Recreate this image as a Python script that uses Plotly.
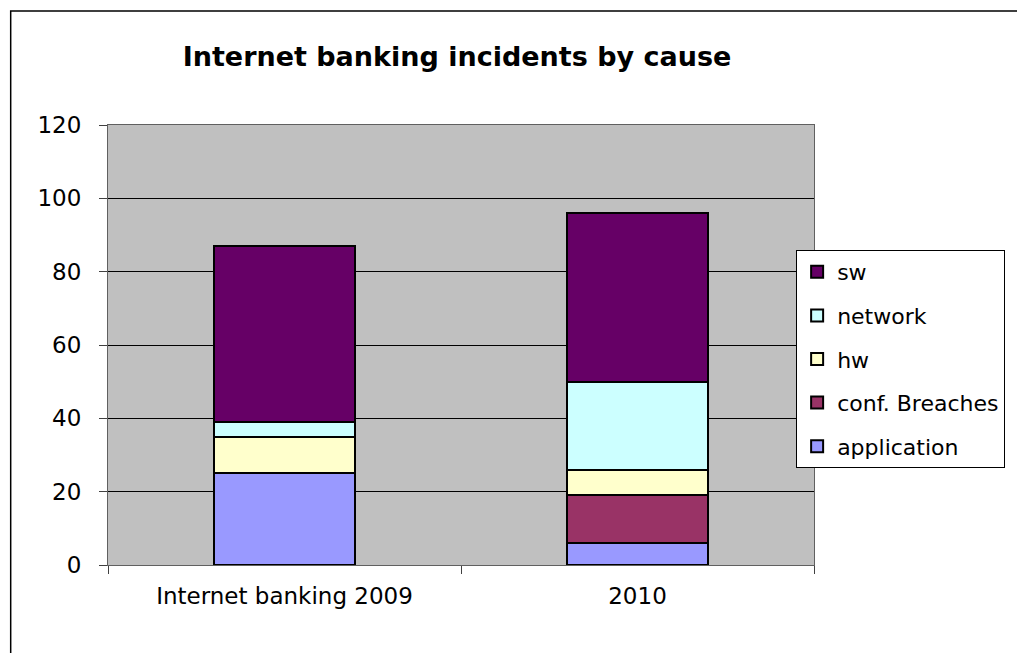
import plotly.graph_objects as go

categories = ["Internet banking 2009", "2010"]
series_names = ["application", "conf. Breaches", "hw", "network", "sw"]
application = [25, 6]
conf_breaches = [0, 13]
hw = [10, 7]
network = [4, 24]
sw = [48, 46]
series_values = [application, conf_breaches, hw, network, sw]
series_colors = ["#9999FF", "#993366", "#FFFFCC", "#CCFFFF", "#660066"]
legend_ranks = [5, 4, 3, 2, 1]
y_ticks = [0, 20, 40, 60, 80, 100, 120]

FONT = "DejaVu Sans"

fig = go.Figure()
for name, vals, col, rk in zip(series_names, series_values, series_colors, legend_ranks):
    fig.add_trace(go.Bar(
        x=categories, y=vals, name=name, legendgroup=name, legendrank=rk,
        marker=dict(color=col, line=dict(color="black", width=2)),
        width=0.4,
    ))

W, H = 1017, 653
L, R, T, B = 108, 198, 125, 88
pw = W - L - R
ph = H - T - B

fig.update_layout(
    width=W, height=H,
    margin=dict(l=L, r=R, t=T, b=B, pad=0),
    barmode="stack",
    paper_bgcolor="white",
    plot_bgcolor="#C0C0C0",
    font=dict(family=FONT, size=23, color="black"),
    title=dict(text="<b>Internet banking incidents by cause</b>",
               x=457 / W, xanchor="center", y=1 - 57 / H, yanchor="middle",
               font=dict(family=FONT, size=27, color="black")),
    showlegend=True,
    legend=dict(
        x=(801 - L) / pw, xanchor="left",
        y=(565 - 250) / ph, yanchor="top",
        bgcolor="white", bordercolor="black", borderwidth=1,
        traceorder="grouped", tracegroupgap=12,
        font=dict(family=FONT, size=22, color="black"),
    ),
    xaxis=dict(
        type="category", showgrid=False, showline=True, linecolor="#606060",
        linewidth=1, mirror=True, ticks="outside", tickson="boundaries",
        ticklen=8, tickcolor="#404040", tickfont=dict(size=23),
        ticklabelstandoff=10,
    ),
    yaxis=dict(
        range=[0, 120], tickvals=y_ticks, showgrid=True, gridcolor="black",
        gridwidth=1, showline=True, linecolor="#606060", linewidth=1,
        mirror=True, ticks="outside", ticklen=8, tickcolor="#404040",
        tickfont=dict(size=23), zeroline=False, ticklabelstandoff=13,
    ),
    shapes=[dict(type="rect", xref="paper", yref="paper",
                 x0=(10 - L) / pw, x1=(W + 50 - L) / pw,
                 y0=-(B + 50) / ph, y1=1 + (T - 11) / ph,
                 line=dict(color="black", width=1.5), fillcolor="rgba(0,0,0,0)",
                 layer="below")],
)

fig.write_html("out.html", config={"displayModeBar": False},
               post_script="document.body.style.margin='0';document.body.style.overflow='hidden';")
